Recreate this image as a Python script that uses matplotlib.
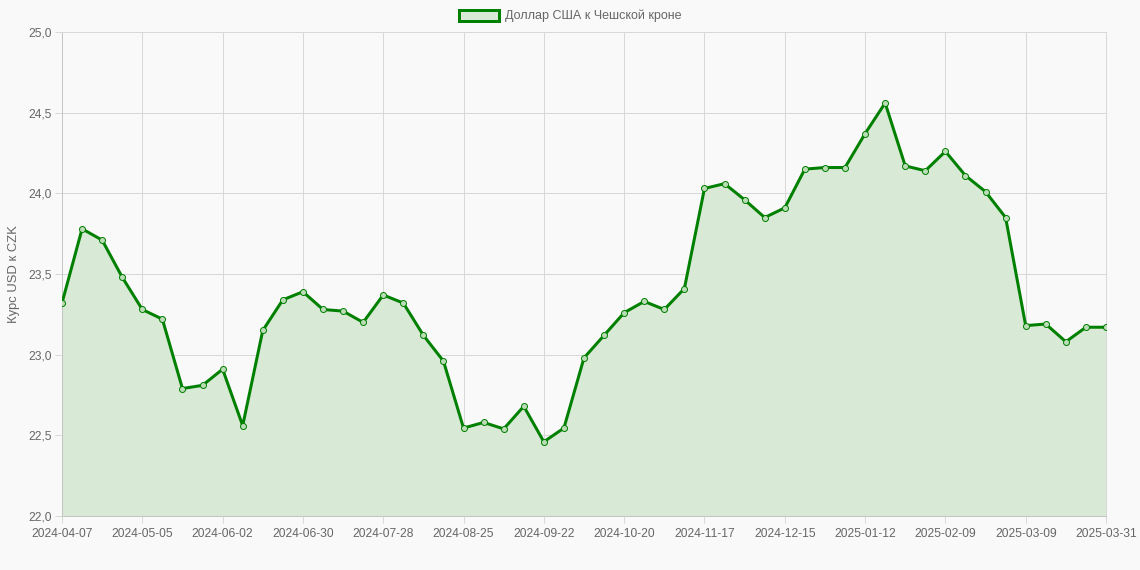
import matplotlib
matplotlib.use("Agg")
import matplotlib.pyplot as plt
from matplotlib.patches import Patch
from matplotlib.ticker import FuncFormatter

plt.rcParams['font.family'] = ['Liberation Sans', 'DejaVu Sans']

dates = [
    "2024-04-07", "2024-04-14", "2024-04-21", "2024-04-28", "2024-05-05", "2024-05-12",
    "2024-05-19", "2024-05-26", "2024-06-02", "2024-06-09", "2024-06-16", "2024-06-23",
    "2024-06-30", "2024-07-07", "2024-07-14", "2024-07-21", "2024-07-28", "2024-08-04",
    "2024-08-11", "2024-08-18", "2024-08-25", "2024-09-01", "2024-09-08", "2024-09-15",
    "2024-09-22", "2024-09-29", "2024-10-06", "2024-10-13", "2024-10-20", "2024-10-27",
    "2024-11-03", "2024-11-10", "2024-11-17", "2024-11-24", "2024-12-01", "2024-12-08",
    "2024-12-15", "2024-12-22", "2024-12-29", "2025-01-05", "2025-01-12", "2025-01-19",
    "2025-01-26", "2025-02-02", "2025-02-09", "2025-02-16", "2025-02-23", "2025-03-02",
    "2025-03-09", "2025-03-16", "2025-03-23", "2025-03-30", "2025-03-31",
]
rates = [
    23.32, 23.78, 23.71, 23.48, 23.28, 23.22, 22.79, 22.81, 22.91, 22.56,
    23.15, 23.34, 23.39, 23.28, 23.27, 23.20, 23.37, 23.32, 23.12, 22.96,
    22.545, 22.58, 22.54, 22.68, 22.46, 22.545, 22.98, 23.12, 23.26, 23.33,
    23.28, 23.41, 24.03, 24.06, 23.96, 23.85, 23.91, 24.15, 24.16, 24.16,
    24.37, 24.56, 24.17, 24.14, 24.26, 24.11, 24.01, 23.85, 23.18, 23.19,
    23.08, 23.17, 23.17,
]
tick_labels = ["2024-04-07", "2024-05-05", "2024-06-02", "2024-06-30", "2024-07-28",
               "2024-08-25", "2024-09-22", "2024-10-20", "2024-11-17", "2024-12-15",
               "2025-01-12", "2025-02-09", "2025-03-09", "2025-03-31"]
y_ticks = [22.0, 22.5, 23.0, 23.5, 24.0, 24.5, 25.0]
series_label = "Доллар США к Чешской кроне"
y_label = "Курс USD к CZK"

W, H = 1140, 570
bg = "#f9f9f9"
green = "#008000"
fill = "#d8e9d5"
marker_fill = "#bcdcb8"
grid_c = "#d8d8d8"
txt_c = "#666666"
px = 0.72  # points per pixel at dpi 100

fig = plt.figure(figsize=(W / 100, H / 100), dpi=100, facecolor=bg)
left, right, top, bottom = 62, 1106, 32, 516
ax = fig.add_axes([left / W, 1 - bottom / H, (right - left) / W, (bottom - top) / H])
ax.set_facecolor(bg)

x = list(range(len(dates)))
ax.fill_between(x, rates, y_ticks[0], color=fill, zorder=1, linewidth=0)
ax.plot(x, rates, color=green, linewidth=3 * px, zorder=3,
        marker="o", markersize=6 * px, markerfacecolor=marker_fill,
        markeredgecolor=green, markeredgewidth=1 * px)

ax.set_xlim(0, len(dates) - 1)
ax.set_ylim(y_ticks[0], y_ticks[-1])
tick_pos = [dates.index(d) for d in tick_labels]
ax.set_xticks(tick_pos)
ax.set_xticklabels(tick_labels)
ax.set_yticks(y_ticks)
ax.yaxis.set_major_formatter(FuncFormatter(lambda v, p: f"{v:.1f}".replace(".", ",")))

ax.grid(True, color=grid_c, linewidth=1 * px, zorder=0)
ax.set_axisbelow(True)
for s in ax.spines.values():
    s.set_color(grid_c)
    s.set_linewidth(1 * px)
ax.spines['left'].set_color("#c4c4c4")
ax.spines['bottom'].set_color("#c4c4c4")
ax.tick_params(axis="both", colors=grid_c, labelcolor=txt_c, labelsize=12 * px,
               length=7 * px, width=1 * px)
ax.tick_params(axis="x", pad=5 * px)
ax.tick_params(axis="y", pad=3 * px)

ax.set_ylabel(y_label, color=txt_c, fontsize=13 * px, labelpad=8 * px)

handle = Patch(facecolor=fill, edgecolor=green, linewidth=3 * px)
fig.legend([handle], [series_label], loc="upper center", bbox_to_anchor=(0.5, 1.0 - 2 / H),
           frameon=False, fontsize=12.5 * px, labelcolor=txt_c, borderaxespad=0.2,
           handlelength=3.2, handleheight=1.0, handletextpad=0.5)

fig.savefig("out.png", dpi=100, facecolor=bg)
